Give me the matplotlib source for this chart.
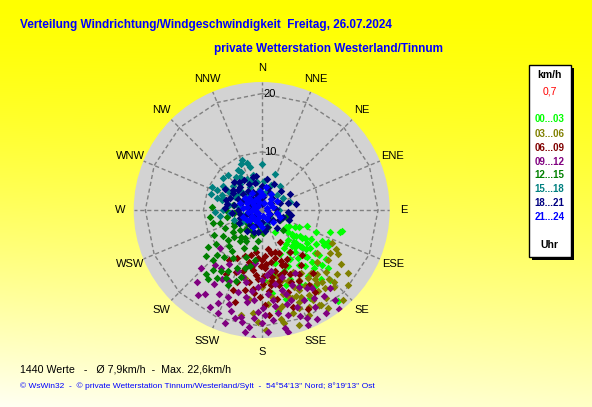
import numpy as np
import matplotlib
matplotlib.use("Agg")
import matplotlib.pyplot as plt
from matplotlib.patches import Rectangle

# Windrichtung (Grad) / Windgeschwindigkeit (km/h) je 3-Stunden-Block
lime_dir = [148, 117, 105, 123, 129, 141, 149, 136, 132, 131, 140, 173, 169, 125, 120, 130, 115, 127,
            134, 138, 126, 131, 137, 143, 122, 128, 134, 142, 146, 150, 155, 158, 162, 153, 145, 139,
            127, 119, 112, 133, 147, 157, 165, 151, 136, 144, 160, 124, 129, 139, 178, 166, 171, 110, 116, 106,
            130, 135, 125, 140, 132, 128, 136, 121, 117, 144, 138, 150, 118, 108]
lime_spd = [4.4, 6.4, 14.2, 8.8, 11.7, 9.2, 7.6, 12.4, 14.0, 15.1, 20.5, 14.4, 11.4, 5.0, 5.5, 5.8, 7.0, 7.4,
            8.1, 8.5, 9.6, 10.2, 10.8, 10.4, 11.0, 12.6, 13.1, 12.2, 11.5, 9.8, 10.6, 12.8, 13.6, 14.5, 13.8, 15.6,
            13.9, 12.3, 10.1, 9.1, 8.7, 8.2, 15.9, 17.2, 16.8, 16.0, 11.2, 7.9, 6.6, 6.9, 12.0, 9.3, 17.5, 8.2, 12.6, 14.0,
            7.0, 7.8, 8.4, 8.0, 9.4, 10.6, 11.2, 9.8, 11.6, 7.2, 13.4, 14.8, 13.0, 12.4]

olive_dir = [115, 127, 134, 143, 149, 151, 158, 169, 173, 180, 185, 194, 157, 159, 164, 120, 124, 130,
             137, 141, 146, 148, 152, 155, 161, 166, 170, 163, 156, 146, 138, 144, 150, 153, 160, 167,
             176, 182, 178, 174, 139, 133, 128, 136, 142, 147, 154, 162, 188, 191, 168, 158, 145, 131, 126,
             150, 156, 163, 140, 135, 148, 170, 118, 122, 142]
olive_spd = [13.3, 14.3, 15.4, 15.8, 19.0, 16.7, 17.0, 19.8, 15.0, 13.2, 17.8, 12.0, 14.4, 18.0, 12.5, 15.2, 16.5, 17.0,
             18.2, 17.3, 14.2, 12.8, 13.6, 15.2, 16.0, 14.8, 17.2, 18.6, 19.8, 20.4, 20.8, 18.8, 17.8, 11.9, 13.0, 11.6,
             16.2, 19.2, 20.6, 12.4, 14.6, 13.0, 12.1, 16.6, 13.8, 15.5, 18.6, 20.8, 15.5, 18.4, 16.9, 15.9, 16.9, 19.6, 18.3,
             15.0, 16.4, 15.4, 16.2, 17.6, 19.2, 19.0, 14.4, 13.8, 15.0]

maroon_dir = [150, 162, 176, 184, 194, 207, 177, 172, 162, 155, 192, 178, 157, 138, 165, 170, 181, 188,
              197, 203, 168, 160, 153, 146, 156, 164, 174, 183, 190, 199, 186, 175, 167, 158, 150, 144,
              141, 148, 170, 181, 196, 209, 213, 200, 188, 171, 159, 166, 179, 185, 162, 147, 176, 158, 193, 171,
              175, 180, 168, 190, 160, 173, 185, 152, 200, 178]
maroon_spd = [6.3, 7.5, 8.0, 8.3, 9.2, 9.3, 10.0, 12.4, 14.8, 18.7, 14.0, 16.3, 10.2, 10.3, 8.6, 9.1, 9.6, 10.4,
              10.9, 11.5, 10.8, 11.3, 9.4, 8.8, 12.1, 11.7, 11.0, 11.9, 12.5, 13.0, 13.6, 13.9, 13.2, 13.4, 12.7, 11.6,
              13.9, 15.2, 15.6, 15.0, 16.4, 12.6, 10.3, 8.4, 7.3, 6.8, 9.3, 12.6, 12.8, 11.2, 17.5, 16.9, 18.1, 8.0, 7.9, 11.6,
              9.4, 8.6, 7.6, 9.8, 10.0, 13.0, 14.4, 13.8, 14.6, 11.4]

purple_dir = [228, 220, 210, 201, 205, 194, 191, 184, 180, 171, 166, 157, 151, 141, 147, 189, 187, 166,
              158, 175, 201, 187, 152, 213, 217, 198, 186, 177, 169, 162, 155, 149, 144, 160, 173, 179,
              183, 192, 196, 205, 211, 195, 180, 170, 163, 154, 174, 182, 190, 199, 208, 222, 226, 184,
              165, 150, 139, 188, 176, 171, 203, 158, 142, 196, 215,
              185, 172, 160, 190, 197, 153, 148, 168, 207, 214, 178, 164]
purple_spd = [9.7, 12.4, 13.6, 16.0, 17.7, 19.1, 18.7, 22.0, 19.4, 17.9, 18.6, 20.1, 19.0, 19.9, 15.9, 16.0, 14.1, 14.2,
              13.9, 11.2, 11.3, 9.2, 12.2, 15.2, 18.3, 20.4, 20.2, 21.0, 20.6, 16.2, 17.1, 17.6, 18.3, 19.4, 15.6, 16.8,
              13.2, 12.6, 14.7, 13.4, 10.8, 10.2, 12.0, 13.0, 12.0, 14.8, 19.0, 17.5, 15.2, 17.0, 18.9, 16.6, 14.4, 18.6,
              16.7, 15.5, 17.8, 21.2, 14.4, 10.6, 19.2, 21.3, 21.6, 11.9, 12.2,
              15.6, 16.6, 17.8, 19.6, 18.2, 21.0, 20.8, 21.4, 16.2, 17.4, 18.0, 15.0]

green_dir = [228, 219, 219, 225, 216, 210, 190, 184, 204, 197, 227, 252, 274, 96, 133, 215, 205, 198,
             211, 222, 232, 240, 236, 244, 258, 264, 248, 220, 200, 192, 203, 209, 214, 224, 218, 200,
             186, 176, 160, 120, 105, 212, 230, 270, 280, 234, 207, 195, 226, 238, 110,
             235, 242, 255, 262, 213, 208, 196, 188, 230, 221, 245, 218, 206]
green_spd = [7.7, 10.4, 13.2, 10.9, 8.8, 5.6, 6.7, 3.7, 14.1, 12.0, 5.0, 7.5, 8.6, 2.6, 5.1, 6.4, 7.2, 8.5,
             9.6, 8.4, 6.2, 5.4, 8.0, 7.0, 6.1, 4.8, 3.6, 4.2, 4.6, 9.8, 10.8, 11.9, 12.6, 12.0, 15.0, 13.0,
             5.3, 4.0, 3.2, 3.6, 4.4, 3.1, 3.4, 6.2, 5.0, 9.8, 3.9, 2.6, 6.7, 4.3, 3.8,
             11.2, 9.2, 8.6, 9.0, 14.0, 13.2, 10.4, 8.6, 12.4, 14.6, 5.2, 5.8, 6.0]

teal_dir = [336, 345, 0, 346, 327, 298, 288, 290, 37, 74, 333, 129, 255, 264, 287, 340, 350, 320,
            310, 305, 315, 325, 300, 280, 270, 276, 355, 5, 12, 20, 332, 338, 330, 322, 316, 302,
            294, 284, 262, 250, 240, 230, 200, 160, 90, 60, 45, 348, 318, 296, 343,
            310, 295, 285, 300, 335, 345, 312, 278, 268, 20]
teal_spd = [8.6, 7.7, 7.9, 6.2, 6.8, 6.2, 9.1, 7.3, 5.2, 5.1, 4.5, 1.9, 3.3, 5.5, 6.9, 5.4, 4.8, 5.8,
            6.5, 4.9, 3.8, 3.2, 3.0, 4.2, 6.7, 3.5, 3.6, 5.0, 3.2, 4.5, 7.4, 9.2, 8.0, 7.2, 8.3, 7.8,
            8.4, 7.0, 7.2, 5.0, 4.0, 2.4, 2.0, 2.6, 3.0, 4.2, 3.6, 2.4, 2.2, 5.2, 8.4,
            8.6, 9.4, 8.0, 6.8, 5.8, 3.0, 4.6, 5.6, 8.0, 6.5]

navy_dir = [286, 273, 317, 346, 350, 107, 70, 26, 249, 218, 163, 130, 300, 310, 325, 335, 355, 5,
            15, 40, 55, 85, 95, 120, 145, 180, 200, 230, 240, 260, 265, 280, 292, 305, 320, 340,
            0, 10, 330, 315, 300, 280, 270, 255, 290, 45, 75, 100, 115, 190, 215, 225, 345, 295, 310,
            320, 305, 290, 335, 350, 25, 60, 80, 110, 140, 170, 250, 275, 330, 0, 200]
navy_spd = [6.3, 6.3, 5.5, 4.7, 1.7, 3.9, 3.3, 3.2, 4.0, 3.3, 3.0, 2.6, 5.7, 4.2, 4.0, 3.4, 3.0, 2.2,
            4.0, 2.8, 2.0, 2.4, 4.6, 3.4, 2.2, 2.0, 2.6, 2.8, 4.6, 3.8, 5.2, 4.8, 3.6, 3.0, 2.6, 3.0,
            4.2, 5.4, 6.0, 6.8, 7.2, 6.0, 4.0, 2.2, 2.0, 4.6, 4.6, 5.2, 1.6, 3.8, 4.5, 1.8, 5.8, 4.4, 5.4,
            6.2, 6.0, 5.8, 5.0, 6.0, 5.0, 5.6, 6.0, 5.0, 4.0, 3.6, 3.0, 2.0, 1.5, 1.0, 4.0]

blue_dir = [6, 225, 282, 229, 326, 90, 250, 287, 51, 180, 207, 300, 270, 315, 340, 20, 60, 30,
            120, 150, 200, 240, 260, 275, 295, 310, 330, 350, 10, 40, 75, 100, 135, 165, 190, 215,
            235, 265, 285, 305, 320, 355, 70, 110, 250]
blue_spd = [2.6, 0.8, 2.6, 2.6, 2.1, 0.9, 3.4, 3.9, 1.8, 2.9, 3.2, 1.6, 1.2, 3.0, 1.4, 1.2, 3.0, 3.2,
            1.5, 1.8, 1.2, 2.0, 2.4, 3.2, 2.8, 2.2, 3.4, 2.2, 4.0, 2.4, 2.0, 2.6, 2.8, 1.0, 2.2, 2.0,
            3.0, 1.8, 1.4, 3.6, 1.0, 3.2, 1.0, 3.4, 1.0]

hour_labels = ["00...03", "03...06", "06...09", "09...12", "12...15", "15...18", "18...21", "21...24"]
hour_colors = ["#00FF00", "#808000", "#800000", "#800080", "#008000", "#008080", "#000080", "#0000FF"]
series = [(lime_dir, lime_spd), (olive_dir, olive_spd), (maroon_dir, maroon_spd), (purple_dir, purple_spd),
          (green_dir, green_spd), (teal_dir, teal_spd), (navy_dir, navy_spd), (blue_dir, blue_spd)]

dir_names = ["N", "NNE", "NE", "ENE", "E", "ESE", "SE", "SSE", "S", "SSW", "SW", "WSW", "W", "WNW", "NW", "NNW"]
r_max = 22
rings = [10, 20]

W, H = 592, 407
fig = plt.figure(figsize=(W / 100, H / 100), dpi=100)

# Hintergrund: gelber Verlauf
bg = fig.add_axes([0, 0, 1, 1])
yy, xx = np.mgrid[0:1:200j, 0:1:300j]
f = np.clip(yy ** 1.4 * (1 - 0.18 * xx) * 0.95, 0, 1)
img = np.dstack([np.ones_like(f), np.ones_like(f), f])
bg.imshow(img, extent=[0, 1, 0, 1], aspect="auto", origin="upper")
bg.set_axis_off()

cx, cy, rad = 261.7, 210, 128
ax = fig.add_axes([(cx - rad) / W, (H - cy - rad) / H, 2 * rad / W, 2 * rad / H], projection="polar")
ax.set_theta_zero_location("N")
ax.set_theta_direction(-1)
ax.set_ylim(0, r_max)
ax.set_facecolor("#D3D3D3")
ax.spines["polar"].set_visible(False)
ax.grid(False)
ax.set_xticks([])
ax.set_yticks([])

angles = np.deg2rad(np.arange(16) * 22.5)
for a in angles:
    ax.plot([a, a], [0, r_max], color="#808080", lw=1, ls=(0, (3, 2)), zorder=1)
for rg in rings:
    ax.plot(np.append(angles, angles[0]), [rg] * 17, color="#808080", lw=1, ls=(0, (3, 2)), zorder=1)
    ax.annotate(str(rg), xy=(0, rg), xytext=(1.5, 0), textcoords="offset points",
                ha="left", va="center", fontsize=8, family="Liberation Sans", zorder=5)

for (d, s), col in zip(series, hour_colors):
    ax.scatter(np.deg2rad(d), s, marker="D", s=15, color=col, linewidths=0, zorder=3)

for a, name in zip(angles, dir_names):
    ax.text(a, 24.4, name, ha="center", va="center", fontsize=8, family="Liberation Sans", clip_on=False)

# Titel
fig.text(20 / W, 1 - 25 / H, "Verteilung Windrichtung/Windgeschwindigkeit  Freitag, 26.07.2024",
         color="#0000FF", fontsize=8.5, fontweight="bold", family=["Liberation Sans Narrow", "Liberation Sans"],
         ha="left", va="center")
fig.text(443 / W, 1 - 49 / H, "private Wetterstation Westerland/Tinnum",
         color="#0000FF", fontsize=8.5, fontweight="bold", family=["Liberation Sans Narrow", "Liberation Sans"],
         ha="right", va="center")

# Legende
lx0, lx1, ly0, ly1 = 529, 571, 65, 257
fig.add_artist(Rectangle(((lx0 + 3) / W, (H - ly1 - 3) / H), (lx1 - lx0) / W, (ly1 - ly0) / H,
                         transform=fig.transFigure, facecolor="black", edgecolor="none"))
fig.add_artist(Rectangle((lx0 / W, (H - ly1) / H), (lx1 - lx0) / W, (ly1 - ly0) / H,
                         transform=fig.transFigure, facecolor="white", edgecolor="black", lw=1))
lx = 549.5 / W
fig.text(lx, 1 - 75 / H, "km/h", ha="center", va="center", fontsize=7.5, fontweight="bold", family="Liberation Sans")
fig.text(lx, 1 - 92 / H, "0,7", ha="center", va="center", fontsize=7.5, color="#FF0000", family="Liberation Sans")
leg_y = [119, 134, 148, 162, 175, 189, 203, 217]
for ty, lab, col in zip(leg_y, hour_labels, hour_colors):
    fig.text(lx, 1 - ty / H, lab, ha="center", va="center", fontsize=7, fontweight="bold", color=col,
             family="Liberation Sans")
fig.text(lx, 1 - 245 / H, "Uhr", ha="center", va="center", fontsize=7.5, fontweight="bold", family="Liberation Sans")

# Fusszeilen
fig.text(20 / W, 1 - 369 / H, "1440 Werte   -   Ø 7,9km/h  -  Max. 22,6km/h", ha="left", va="center",
         fontsize=7.7, family="Liberation Sans")
fig.text(20 / W, 1 - 386 / H,
         "© WsWin32  -  © private Wetterstation Tinnum/Westerland/Sylt  -  54°54'13'' Nord; 8°19'13'' Ost",
         ha="left", va="center", fontsize=6, color="#0000FF", family="Liberation Sans")

fig.savefig("out.png", dpi=100)
